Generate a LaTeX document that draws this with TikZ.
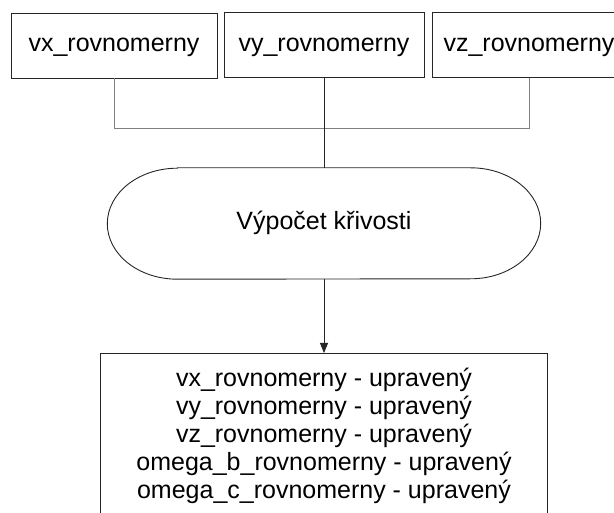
\documentclass[tikz,border=0pt]{standalone}
\usepackage{fontspec}
\setmainfont{Liberation Sans}
\usetikzlibrary{arrows.meta}

\tikzset{
  varbox/.style={draw=black!85, line width=0.9pt, minimum height=65pt, inner sep=0pt,
    text height=18pt, text depth=5pt},
  edge/.style={line width=0.9pt, black!85},
  feed/.style={line width=0.9pt, black!50},
}

\begin{document}
\begin{tikzpicture}[x=1pt, y=-1pt, font=\fontsize{25}{28}\selectfont]
  % Page frame in pixel units (y runs downwards)
  \useasboundingbox (0,0) rectangle (614,513);

  % Input quantities along the top
  \node[varbox, minimum width=206pt] (vx) at (114,45.5) {vx\_rovnomerny};
  \node[varbox, minimum width=200pt] (vy) at (324,45)   {vy\_rovnomerny};
  \node[varbox, minimum width=194pt] (vz) at (529,45)   {vz\_rovnomerny};

  % Junction where the three inputs join
  \coordinate (J) at (324,128);

  % Processing step, racetrack outline drawn around the node
  \node[minimum width=433pt, minimum height=111pt, text height=18pt, text depth=5pt]
    (calc) at (324,223.5) {Výpočet křivosti};
  \draw[edge] ([xshift=70pt]calc.north west) -- ([xshift=-70pt]calc.north east)
    arc[start angle=90, end angle=-90, x radius=70pt, y radius=55.5pt]
    -- ([xshift=70pt]calc.south west)
    arc[start angle=270, end angle=90, x radius=70pt, y radius=55.5pt] -- cycle;

  % Corrected outputs
  \node[draw=black!85, line width=0.9pt, anchor=north, minimum width=447pt,
    inner xsep=0pt, inner ysep=14.5pt, align=center] (out) at (324,353)
    {vx\_rovnomerny - upravený\\
     vy\_rovnomerny - upravený\\
     vz\_rovnomerny - upravený\\
     omega\_b\_rovnomerny - upravený\\
     omega\_c\_rovnomerny - upravený};

  % Connectors
  \draw[feed] (vx.south) -- (vx.south |- J) -- (vz.south |- J) -- (vz.south);
  \draw[edge] (vy.south) -- (calc.north);
  \draw[edge, -{Triangle[length=10pt, width=8pt]}] (calc.south) -- (out.north);

\end{tikzpicture}
\end{document}
